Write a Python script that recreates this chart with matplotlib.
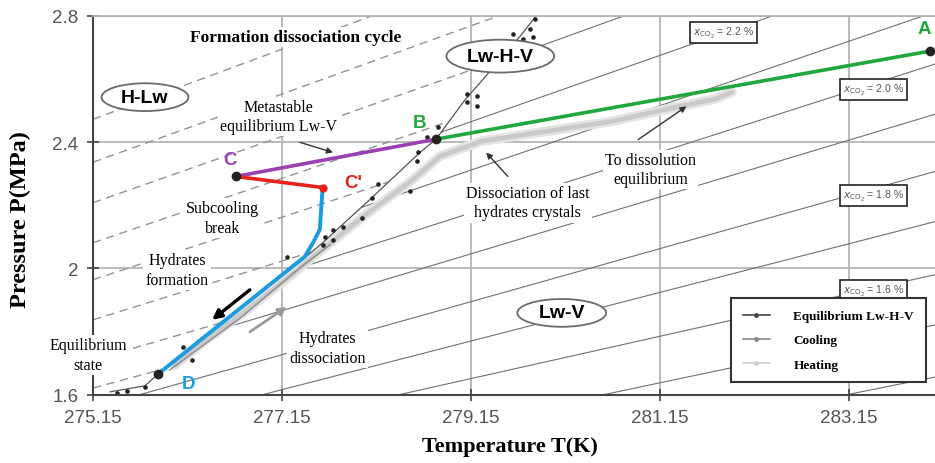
import numpy as np
import matplotlib
matplotlib.use("Agg")
import matplotlib.pyplot as plt
from matplotlib.patches import Ellipse
from matplotlib.lines import Line2D

# ---- data (T in K, P in MPa) ----
# Lw-H-V equilibrium curve
eq_T = [275.33, 275.70, 275.84, 276.28, 276.81, 277.34, 277.58, 278.08, 278.61, 278.78, 279.09, 279.25, 279.67, 279.83]
eq_P = [1.609, 1.628, 1.666, 1.774, 1.900, 2.021, 2.081, 2.218, 2.367, 2.409, 2.535, 2.589, 2.735, 2.796]
# experimental equilibrium points (scatter around the curve)
pts_T = [279.11, 279.21, 279.11, 279.21, 278.80, 278.68, 278.59, 278.58, 278.50, 278.17, 278.10, 278.00,
         277.80, 277.69, 277.61, 277.69, 277.58, 277.20, 276.10, 276.20, 279.59, 279.77, 279.81, 279.70,
         279.83, 275.40, 275.51, 275.70]
pts_P = [2.551, 2.545, 2.526, 2.513, 2.447, 2.415, 2.367, 2.339, 2.244, 2.266, 2.224, 2.160,
         2.132, 2.122, 2.100, 2.090, 2.074, 2.037, 1.751, 1.710, 2.742, 2.758, 2.732, 2.726,
         2.790, 1.604, 1.613, 1.623]

# cooling (grey) and heating (light grey band)
cool_T = [275.96, 276.71, 277.34, 277.66]
cool_P = [1.678, 1.843, 2.002, 2.075]
heat_T = [276.02, 276.28, 276.71, 277.23, 277.48, 278.01, 278.54, 278.82, 279.11, 279.25,
          279.95, 280.65, 281.22, 281.73, 281.91]
heat_P = [1.694, 1.758, 1.853, 1.974, 2.037, 2.164, 2.282, 2.355, 2.386, 2.402,
          2.434, 2.466, 2.504, 2.536, 2.558]

# formation / dissociation cycle A -> B -> C -> C' -> D
A = (284.01, 2.688)
B = (278.78, 2.409)
C = (276.66, 2.291)
Cp = (277.58, 2.256)
D = (275.84, 1.666)
blue_T = [277.58, 277.55, 277.48, 277.39, 275.84]
blue_P = [2.256, 2.123, 2.082, 2.037, 1.666]

# isopleths: dashed family (P at 275.15 K, slope MPa/K), solid family (P at 284.06 K, slope)
dash_P0 = [2.472, 2.336, 2.208, 2.081, 1.964, 1.837, 1.710, 1.621]
dash_k = [0.111, 0.108, 0.105, 0.102, 0.099, 0.093, 0.087, 0.081]
solid_P1 = [3.155, 2.980, 2.812, 2.647, 2.488, 2.307, 2.148, 1.980, 1.821, 1.656]
solid_k = [0.108, 0.105, 0.102, 0.096, 0.090, 0.084, 0.077, 0.067, 0.063, 0.060]

xco2_labels = ['2.2 %', '2.0 %', '1.8 %', '1.6 %']
xco2_T = [281.82, 283.41, 283.41, 283.41]
xco2_P = [2.748, 2.567, 2.230, 1.929]

xticks = [275.15, 277.15, 279.15, 281.15, 283.15]
yticks = [1.6, 2.0, 2.4, 2.8]
ytick_labels = ['1.6', '2', '2.4', '2.8']

T_min, T_max = 275.15, 284.06
P_min, P_max = 1.6, 2.8

serif = 'Liberation Serif'
sans = 'Liberation Sans'

fig = plt.figure(figsize=(9.35, 4.64), dpi=100)
ax = fig.add_axes([93/935, 1 - 395.7/464, 842/935, 379/464])
ax.set_xlim(T_min, T_max)
ax.set_ylim(P_min, P_max)

# grid
ax.set_axisbelow(True)
ax.grid(True, color='#b4b4b4', lw=1.3)
ax.set_xticks(xticks)
ax.set_xticklabels([f'{t:.2f}' for t in xticks])
ax.set_yticks(yticks)
ax.set_yticklabels(ytick_labels)
ax.tick_params(direction='inout', length=9, width=1.2, color='#444', labelsize=13.5,
               labelcolor='#555', pad=6)
for lab in ax.get_xticklabels() + ax.get_yticklabels():
    lab.set_family(sans)
for s in ['left', 'bottom']:
    ax.spines[s].set_color('#444')
    ax.spines[s].set_linewidth(1.5)
ax.spines['top'].set_color('#b4b4b4')
ax.spines['top'].set_linewidth(1.3)
ax.spines['right'].set_visible(False)

# isopleths: dashed left of equilibrium curve, solid right of it
tt = np.linspace(T_min, T_max, 600)
for p0, k in zip(dash_P0, dash_k):
    pp = p0 + k * (tt - T_min)
    teq = np.interp(pp, eq_P, eq_T)
    ax.plot(tt, np.where(tt < teq, pp, np.nan), color='#939393', lw=1.0,
            dashes=(6, 4), zorder=1.5)
for p1, k in zip(solid_P1, solid_k):
    pp = p1 + k * (tt - T_max)
    teq = np.interp(pp, eq_P, eq_T)
    ax.plot(tt, np.where(tt > teq, pp, np.nan), color='#707070', lw=0.8, zorder=1.5)

# heating band, cooling, equilibrium
ax.plot(heat_T, heat_P, color='#e4e4e4', lw=7, solid_capstyle='round', zorder=2.0)
ax.plot(heat_T, heat_P, color='#cacaca', lw=3.4, solid_capstyle='round', zorder=2.05)
ax.plot(cool_T, cool_P, color='#8c8c8c', lw=1.0, zorder=2.1)
ax.plot(eq_T, eq_P, color='#555555', lw=0.9, zorder=2.2)
ax.plot(pts_T, pts_P, 'o', color='#222', ms=2.3, zorder=2.3, clip_on=False)

# the cycle
ax.plot([B[0], A[0]], [B[1], A[1]], color='#1fa83c', lw=2.6, zorder=4)
ax.plot([B[0], C[0]], [B[1], C[1]], color='#9b40b2', lw=2.6, zorder=4)
ax.plot([C[0], Cp[0]], [C[1], Cp[1]], color='#e5231b', lw=2.6, zorder=4)
ax.plot(blue_T, blue_P, color='#1b9be0', lw=2.8, zorder=4, solid_joinstyle='round')
for p in [A, B, C, D]:
    ax.plot(*p, 'o', color='#222', ms=6, zorder=4.5, clip_on=False)
ax.plot(*Cp, 'o', color='#e5231b', ms=5, zorder=4.5)

letter_kw = dict(fontsize=13.5, fontweight='bold', family=sans, ha='center', va='center', zorder=5)
ax.text(283.95, 2.758, 'A', color='#1fa83c', **letter_kw)
ax.text(278.61, 2.462, 'B', color='#1fa83c', **letter_kw)
ax.text(276.60, 2.345, 'C', color='#9b40b2', **letter_kw)
ax.text(277.90, 2.272, "C'", color='#e5231b', **letter_kw)
ax.text(276.16, 1.637, 'D', color='#1b9be0', **letter_kw)

# region ellipses
for (cx, cy, w, h, lab) in [(275.70, 2.542, 0.92, 0.088, 'H-Lw'),
                            (279.46, 2.672, 1.14, 0.104, 'Lw-H-V'),
                            (280.11, 1.859, 0.94, 0.088, 'Lw-V')]:
    ax.add_patch(Ellipse((cx, cy), w, h, facecolor='white', edgecolor='#6a6a6a', lw=1.3, zorder=3))
    ax.text(cx, cy, lab, fontsize=14, fontweight='bold', family=sans, ha='center',
            va='center', zorder=3.5)

# annotations
box = dict(facecolor='white', edgecolor='none', pad=1.5)
note_kw = dict(fontsize=11.5, family=serif, ha='center', va='center', zorder=3,
               bbox=box, linespacing=1.3)
ax.text(277.29, 2.732, 'Formation dissociation cycle', fontsize=12.5, fontweight='bold',
        family=serif, ha='center', va='center', zorder=3, bbox=box)
ax.text(277.11, 2.481, 'Metastable\nequilibrium Lw-V', **note_kw)
ax.text(276.52, 2.160, 'Subcooling\nbreak', **note_kw)
ax.text(276.04, 1.995, 'Hydrates\nformation', **note_kw)
ax.text(275.10, 1.726, 'Equilibrium\nstate', clip_on=False, **note_kw)
ax.text(277.63, 1.748, 'Hydrates\ndissociation', **note_kw)
ax.text(279.75, 2.208, 'Dissociation of last\nhydrates crystals', **note_kw)
ax.text(281.05, 2.313, 'To dissolution\nequilibrium', **note_kw)

arr = dict(arrowstyle='-|>', color='#333', lw=1.0, mutation_scale=9, shrinkA=0, shrinkB=0)
ax.annotate('', xy=(277.69, 2.367), xytext=(277.34, 2.399), arrowprops=arr, zorder=3.2)
ax.annotate('', xy=(279.31, 2.367), xytext=(279.54, 2.291), arrowprops=arr, zorder=3.2)
ax.annotate('', xy=(281.43, 2.513), xytext=(280.92, 2.408), arrowprops=arr, zorder=3.2)
ax.annotate('', xy=(276.41, 1.837), xytext=(276.81, 1.932),
            arrowprops=dict(arrowstyle='-|>', color='black', lw=2.4, mutation_scale=14,
                            shrinkA=0, shrinkB=0), zorder=3.2)
ax.annotate('', xy=(277.20, 1.878), xytext=(276.81, 1.799),
            arrowprops=dict(arrowstyle='-|>', color='#9a9a9a', lw=2.0, mutation_scale=12,
                            shrinkA=0, shrinkB=0), zorder=3.2)

# x_CO2 labels
for lab, t, p in zip(xco2_labels, xco2_T, xco2_P):
    ax.text(t, p, r'$x_{\mathrm{CO_2}}$ = ' + lab, fontsize=7.5, color='#555', family=sans,
            ha='center', va='center', zorder=3,
            bbox=dict(facecolor='white', edgecolor='#222', lw=1.2, pad=2.2))

# legend
handles = [Line2D([], [], color='#444', lw=1.2, marker='o', ms=2.5),
           Line2D([], [], color='#888', lw=1.2, marker='o', ms=2.5),
           Line2D([], [], color='#d0d0d0', lw=1.2, marker='o', ms=2.5)]
leg = ax.legend(handles, ['Equilibrium Lw-H-V', 'Cooling', 'Heating'],
                loc='lower right', bbox_to_anchor=(0.997, 0.015), frameon=True,
                fancybox=False, edgecolor='#333', framealpha=1, handlelength=2.0,
                handletextpad=1.8, borderpad=0.9, labelspacing=0.9,
                prop={'family': serif, 'weight': 'bold', 'size': 9.5})
leg.get_frame().set_linewidth(1.5)
leg.set_zorder(6)

# axis labels
fig.text(510/935, 1 - 447/464, 'Temperature T(K)', fontsize=16, fontweight='bold',
         family=serif, ha='center', va='center')
fig.text(20/935, 1 - 220/464, 'Pressure P(MPa)', fontsize=17.5, fontweight='bold',
         family=serif, ha='center', va='center', rotation=90)

fig.savefig('out.png', dpi=100)
